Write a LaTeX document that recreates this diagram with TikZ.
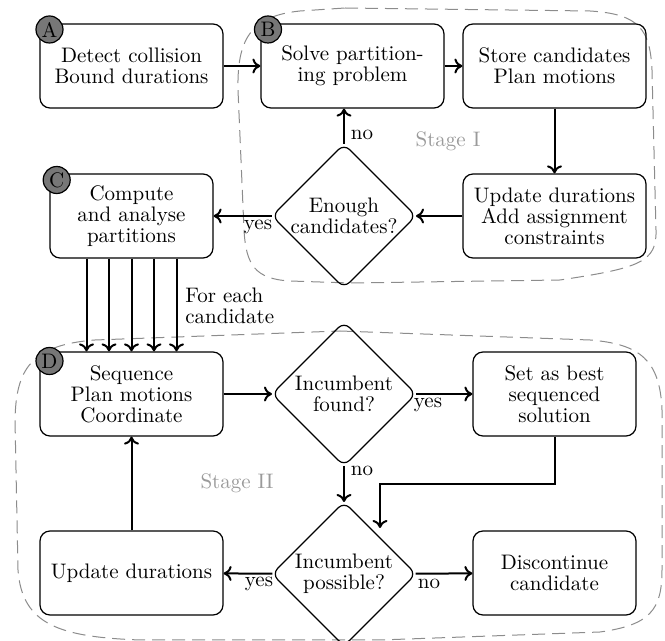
\documentclass[tikz,border=0pt]{standalone}
\usetikzlibrary{shapes.geometric,arrows.meta,calc}
\newcommand{\fsz}{\fontsize{10.5}{10.5}\selectfont}
\definecolor{tagfill}{HTML}{777777}
\definecolor{stagegray}{HTML}{8C8C8C}
\definecolor{stagetext}{HTML}{9A9A9A}
\begin{document}
\begin{tikzpicture}[x=0.5pt,y=-0.5pt,font=\fsz,
  box/.style={draw, line width=0.6pt, rounded corners=5pt, minimum width=91.5pt, minimum height=42pt, align=center, inner sep=2pt},
  nbox/.style={box, minimum width=81.5pt},
  dec/.style={draw, line width=0.6pt, diamond, rounded corners=4pt, aspect=1, inner sep=0pt, outer sep=0pt, minimum width=72pt, minimum height=72pt, align=center},
  tag/.style={circle, draw, line width=0.6pt, fill=tagfill, minimum size=13.5pt, inner sep=0pt},
  arr/.style={-{To[length=4pt,width=7.5pt]}, line width=1pt},
  lbl/.style={inner sep=0pt},
  stage/.style={draw=stagegray, dash pattern=on 6.5pt off 3.5pt, line width=0.5pt},
  stagelbl/.style={text=stagetext, inner sep=0pt}]
\useasboundingbox (0,0) rectangle (665,641);

% stage regions
\draw[stage] (345,8) -- (590,11) .. controls (640,14) and (650,30) .. (652,70) -- (656,230)
  .. controls (657,262) and (640,268) .. (560,280) -- (350,283) -- (290,281)
  .. controls (255,279) and (246,265) .. (244,230) -- (238,90)
  .. controls (237,40) and (250,16) .. (300,11) -- cycle;
\draw[stage] (340,331) -- (590,340) .. controls (640,344) and (660,360) .. (662,410) -- (662,570)
  .. controls (662,610) and (650,625) .. (600,632) -- (380,640) -- (140,640)
  .. controls (60,637) and (22,625) .. (18,570) -- (15,420)
  .. controls (16,370) and (30,345) .. (95,340) -- cycle;
\node[stagelbl] (s1) at (448,141) {Stage I};
\node[stagelbl] (s2) at (237,483) {Stage II};

% nodes
\node[box] (A) at (131.5,66) {Detect collision\\Bound durations};
\node[box] (B) at (352.5,66) {Solve partition-\\ing problem};
\node[box] (S) at (554.5,66) {Store candidates\\Plan motions};
\node[box] (U) at (554.5,216) {Update durations\\Add assignment\\constraints};
\node[dec] (E) at (344,216) {Enough\\candidates?};
\node[nbox] (C) at (131.5,216) {Compute\\and analyse\\partitions};
\node[box] (D) at (131.5,394) {Sequence\\Plan motions\\Coordinate};
\node[dec] (F) at (344,394) {Incumbent\\found?};
\node[nbox] (T) at (554.5,394) {Set as best\\sequenced\\solution};
\node[dec] (P) at (344,574) {Incumbent\\possible?};
\node[box] (V) at (131.5,573) {Update durations};
\node[nbox] (X) at (554.5,573) {Discontinue\\candidate};

% tags
\node[tag] (tA) at (49.5,29.5) {A};
\node[tag] (tB) at (268,29.5) {B};
\node[tag] (tC) at (56.7,180) {C};
\node[tag] (tD) at (49.5,361) {D};

% connectors
\draw[arr] (A) -- (B);
\draw[arr] (B) -- (S);
\draw[arr] (S) -- (U);
\draw[arr] (U) -- (E);
\draw[arr] (E) -- (C);
\draw[arr] (E.north) -- (E.north |- B.south);
\foreach \dx in {-45,-22.5,0,22.5,45}
  \draw[arr] ([xshift=\dx*0.5pt]C.south) -- ([xshift=\dx*0.5pt]D.north);
\draw[arr] (D) -- (F);
\draw[arr] (F) -- (T);
\draw[arr] (F) -- (P);
\coordinate (pin) at ([yshift=5pt]P.north east);
\draw[arr] (T.south) -- ++(0,47) -| (pin);
\draw[arr] (P) -- (V);
\draw[arr] (P) -- (X);
\draw[arr] (V) -- (D);

% labels
\node[lbl] (l1) at (362,135) {no};
\node[lbl] (l2) at (258,227) {yes};
\node[lbl, align=left, anchor=west] (l3) at (185,306) {For each\\candidate};
\node[lbl] (l4) at (428,405) {yes};
\node[lbl] (l5) at (362,471) {no};
\node[lbl] (l6) at (259,584) {yes};
\node[lbl] (l7) at (429,584) {no};
\end{tikzpicture}
\end{document}
